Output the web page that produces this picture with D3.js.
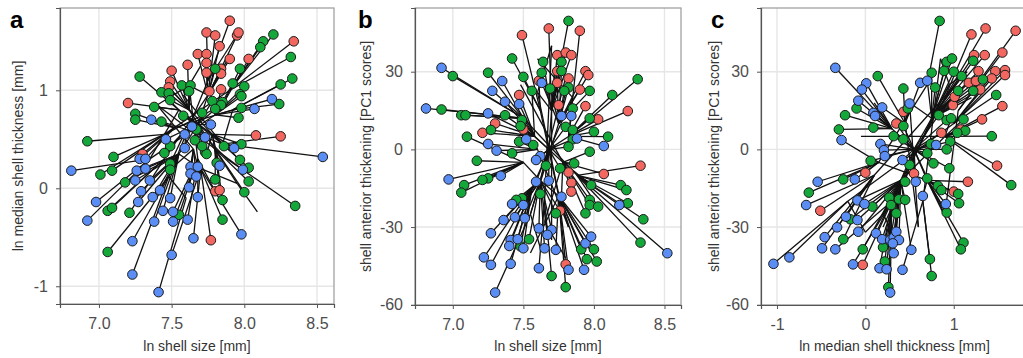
<!DOCTYPE html>
<html>
<head>
<meta charset="utf-8">
<script src="https://cdn.jsdelivr.net/npm/d3@7"></script>
<style>
  body { margin: 0; background: #fff; }
  text { font-family: "Liberation Sans", Arial, Helvetica, sans-serif; }
</style>
</head>
<body>
<svg id="chart" width="1023" height="358"></svg>
<script>
// group colours (red, green, blue clades)
var groupColours = ["#F2675F", "#14A83A", "#5B8EF5"];

// tick values
var sizeTicks = [7.0, 7.5, 8.0, 8.5];
var thickTicks = [-1, 0, 1];
var pcTicks = [-60, -30, 0, 30];

// panel a: [ln shell size, ln median shell thickness, group]
var tipsA = [
  [7.90,1.71,0],[7.74,1.59,0],[7.80,1.56,0],[7.95,1.56,0],[7.96,1.59,0],[8.34,1.50,0],[7.83,1.45,0],
  [7.68,1.37,0],[7.74,1.37,0],[7.74,1.28,0],[7.90,1.32,0],[8.03,1.32,0],[7.61,1.26,0],[7.84,1.22,0],
  [7.74,1.18,0],[7.50,1.20,0],[7.84,1.17,0],[7.49,1.09,0],[7.48,1.03,0],[7.76,0.99,0],[7.84,1.01,0],
  [7.20,0.87,0],[8.08,0.54,0],[8.25,0.53,0],[7.30,0.35,0],[7.80,-0.03,0],[7.83,-0.02,0],[7.77,-0.53,0],
  [8.20,1.57,1],[8.13,1.50,1],[8.11,1.44,1],[8.32,1.34,1],[7.97,1.22,1],[7.80,1.22,1],[8.33,1.12,1],
  [8.25,1.06,1],[8.00,1.04,1],[7.92,1.07,1],[7.97,0.96,1],[7.98,0.94,1],[8.24,0.86,1],[7.78,0.89,1],
  [7.85,0.88,1],[7.84,0.85,1],[7.98,0.82,1],[7.71,0.77,1],[7.96,0.72,1],[7.98,0.45,1],[7.86,0.43,1],
  [7.73,0.37,1],[7.28,1.14,1],[7.43,0.98,1],[7.48,0.97,1],[7.57,1.05,1],[7.63,1.05,1],[7.62,0.99,1],
  [7.38,0.83,1],[7.25,0.76,1],[7.25,0.70,1],[7.43,0.68,1],[7.58,0.74,1],[7.49,0.90,1],[6.92,0.48,1],
  [7.66,0.49,1],[7.10,0.32,1],[7.01,0.14,1],[7.09,0.18,1],[7.18,0.06,1],[7.06,-0.23,1],[7.09,-0.20,1],
  [7.21,-0.25,1],[7.55,-0.27,1],[7.49,0.25,1],[7.49,0.19,1],[7.74,0.35,1],[7.81,0.26,1],[7.80,0.09,1],
  [7.85,-0.12,1],[7.85,-0.32,1],[8.00,-0.04,1],[8.03,0.07,1],[8.03,0.21,1],[7.97,0.29,1],[8.35,-0.18,1],
  [7.06,-0.65,1],[7.49,0.43,1],[7.45,0.36,1],[7.71,0.43,1],[7.80,0.81,1],[7.67,0.60,1],
  [8.19,0.91,2],[8.07,0.81,2],[7.77,0.65,2],[7.73,0.52,2],[7.93,0.41,2],[8.54,0.32,2],[7.36,0.70,2],
  [7.64,0.63,2],[7.46,0.50,2],[7.59,0.41,2],[6.81,0.18,2],[7.28,0.30,2],[7.32,0.30,2],[7.26,0.18,2],
  [7.32,0.20,2],[7.35,0.08,2],[7.25,0.08,2],[7.29,-0.03,2],[7.42,-0.02,2],[6.98,-0.14,2],[7.27,-0.14,2],
  [7.37,-0.09,2],[6.92,-0.33,2],[7.49,-0.10,2],[7.44,-0.23,2],[7.51,-0.24,2],[7.38,-0.34,2],[7.51,-0.34,2],
  [7.61,-0.32,2],[7.62,0.01,2],[7.68,-0.09,2],[7.63,0.22,2],[7.68,0.22,2],[7.63,0.15,2],[7.67,0.12,2],
  [7.65,-0.51,2],[7.98,-0.47,2],[7.99,0.19,2],[7.23,-0.54,2],[7.50,-0.68,2],[7.23,-0.88,2],[7.41,-1.06,2],
  [7.59,0.55,2],[7.83,0.23,2]
];
// panel a internal nodes: [x, y, parent node]
var nodesA = [
  [7.68,0.65,-1],[7.75,0.95,0],[7.82,1.15,1],[7.62,1.05,1],[7.55,0.80,0],[7.45,0.55,4],[7.55,0.35,0],
  [7.70,0.20,6],[7.48,0.12,6],[7.85,0.45,0],[7.92,0.80,9],[7.95,0.05,7],[7.40,0.85,3],[7.88,1.30,2],
  [7.60,-0.10,8],[7.70,1.25,3],[7.35,0.30,5],[8.09,-0.24,11],[7.78,0.55,4],[7.60,0.60,9],
  [7.50,1.00,18],[7.90,1.00,5],[7.65,0.40,12],[7.80,0.75,16],
  [7.58,0.95,9],[7.88,0.30,4],[7.52,0.62,10],[7.75,1.10,8],[7.68,0.30,3],[7.85,0.85,5],
  [7.45,0.30,1],[7.62,0.80,11],[7.80,0.40,12]
];

// panel b: [ln shell size, PC1 score, group]
var tipsB = [
  [7.49,44.1,0],[7.68,46.7,0],[7.90,45.8,0],[7.74,36.4,0],[7.80,37.4,0],[7.84,36.4,0],[7.94,30.2,0],
  [7.96,28.7,0],[7.74,30.2,0],[7.82,27.4,0],[7.61,26.5,0],[7.74,25.7,0],[7.90,23.1,0],[7.47,21.0,0],
  [7.75,17.1,0],[7.94,16.7,0],[8.03,11.6,0],[8.24,14.8,0],[7.30,10.0,0],[7.21,6.4,0],[7.50,7.7,0],
  [8.33,-6.3,0],[8.07,-9.5,0],[7.82,-8.9,0],[7.84,-12.9,0],[7.84,-16.3,0],[7.76,-23.7,0],[7.80,-44.4,0],
  [7.82,49.6,1],[7.64,33.8,1],[7.77,33.8,1],[7.77,30.3,1],[7.63,29.6,1],[7.69,23.5,1],[7.56,22.6,1],
  [7.82,23.9,1],[7.79,22.6,1],[7.97,22.6,1],[8.13,21.0,1],[8.31,27.1,1],[7.50,28.0,1],[7.42,35.1,1],
  [7.25,29.6,1],[7.00,28.3,1],[6.92,15.4,1],[7.06,13.2,1],[7.09,13.2,1],[7.10,4.9,1],[7.27,7.5,1],
  [7.37,13.2,1],[7.49,11.3,1],[7.48,9.0,1],[7.47,3.0,1],[7.57,1.7,1],[7.85,15.8,1],[7.97,12.0,1],
  [8.00,6.8,1],[8.10,4.9,1],[7.80,8.7,1],[7.85,7.5,1],[7.85,3.9,1],[7.82,1.0,1],[7.97,-0.9,1],
  [7.42,-1.5,1],[7.17,-4.4,1],[7.66,-6.3,1],[7.76,-7.3,1],[7.86,-5.4,1],[7.98,-13.8,1],[8.19,-13.8,1],
  [8.23,-15.7,1],[8.24,-20.8,1],[7.97,-19.5,1],[7.97,-21.5,1],[8.03,-22.1,1],[7.94,-24.7,1],[7.62,-17.2,1],
  [7.73,-24.7,1],[8.35,-27.0,1],[8.33,-36.0,1],[7.08,-13.8,1],[7.06,-16.7,1],[7.25,-11.2,1],[7.21,-11.8,1],
  [7.49,-18.9,1],[7.45,-19.5,1],[7.54,-34.7,1],[7.48,-37.5,1],[7.91,-38.6,1],[8.00,-38.6,1],[7.95,-42.4,1],
  [8.02,-43.3,1],[7.70,-48.9,1],[7.80,-53.2,1],
  [6.92,31.5,2],[7.35,26.4,2],[7.63,25.7,2],[7.28,22.6,2],[7.37,18.4,2],[7.47,17.5,2],[6.81,15.8,2],
  [7.25,13.9,2],[7.84,12.9,2],[7.77,12.9,2],[7.88,4.2,2],[8.07,1.3,2],[7.25,2.1,2],[7.31,-0.5,2],
  [7.52,3.9,2],[7.62,-2.6,2],[7.59,-4.1,2],[7.34,-10.2,2],[6.97,-11.6,2],[7.59,-12.5,2],[7.68,-12.1,2],
  [7.77,-18.3,2],[8.18,-21.5,2],[7.42,-21.1,2],[7.50,-21.5,2],[7.36,-27.3,2],[7.44,-26.2,2],[7.51,-26.6,2],
  [7.61,-30.5,2],[7.70,-31.1,2],[7.67,-33.0,2],[7.27,-32.4,2],[7.41,-35.0,2],[7.46,-34.7,2],[7.40,-37.3,2],
  [7.50,-38.2,2],[7.94,-36.3,2],[7.98,-33.7,2],[7.73,-38.8,2],[7.65,-38.2,2],[7.22,-41.7,2],[7.27,-44.6,2],
  [7.41,-44.2,2],[7.61,-45.9,2],[7.82,-46.5,2],[7.93,-46.5,2],[7.30,-55.3,2],[8.52,-40.1,2]
];
var nodesB = [
  [7.68,0,-1],[7.70,15,0],[7.72,30,1],[7.60,22,1],[7.58,5,0],[7.50,12,4],[7.62,-12,0],[7.55,-25,6],
  [7.62,-38,7],[7.75,-18,6],[7.82,-30,9],[7.82,5,0],[7.85,20,11],[7.50,-5,6],[7.78,-5,4],[7.65,-28,14],
  [7.60,35,12],[7.80,-42,15],[7.70,40,3],[7.55,-40,9],[7.88,-10,5],[7.48,25,14],
  [7.62,15,9],[7.78,-25,3],[7.56,-15,12],[7.80,28,6],[7.70,-35,1],[7.60,0,10],[7.75,10,7],[7.65,-20,18]
];

// panel c: [ln median shell thickness, PC1 score, group]
var tipsC = [
  [1.20,44.4,0],[1.36,46.7,0],[1.70,45.8,0],[1.23,36.4,0],[1.35,36.4,0],[1.55,37.4,0],[1.28,30.2,0],
  [1.47,30.2,0],[1.58,30.6,0],[1.58,28.7,0],[1.17,25.7,0],[1.25,26.4,0],[1.30,23.1,0],[1.43,27.4,0],
  [1.55,16.7,0],[0.99,17.1,0],[1.32,11.6,0],[1.08,7.7,0],[0.86,6.4,0],[0.35,10.0,0],[0.43,14.5,0],
  [1.49,-6.3,0],[1.16,-12.5,0],[1.00,-16.3,0],[0.55,-9.3,0],[0.00,-9.0,0],[-0.51,-23.7,0],[-0.03,-44.6,0],
  [1.01,20.3,0],
  [0.84,49.6,1],[0.92,33.8,1],[0.98,35.1,1],[1.00,30.0,1],[0.89,30.3,1],[1.22,34.2,1],[1.09,28.3,1],
  [1.33,27.0,1],[1.22,22.6,1],[1.48,21.0,1],[1.05,22.6,1],[0.75,29.6,1],[0.79,23.9,1],[0.43,23.5,1],
  [0.14,28.3,1],[-0.10,15.8,1],[0.48,15.8,1],[0.83,13.2,1],[0.92,11.3,1],[0.97,12.0,1],[1.11,11.6,1],
  [1.13,7.2,1],[1.04,6.4,1],[1.43,5.1,1],[0.96,3.0,1],[0.92,0.0,1],[0.74,2.1,1],[0.43,3.9,1],
  [0.32,5.1,1],[0.43,9.0,1],[0.09,8.4,1],[-0.23,13.2,1],[-0.30,7.7,1],[0.06,-4.4,1],[0.50,-6.0,1],
  [0.70,-1.5,1],[0.77,-5.4,1],[0.95,-7.3,1],[0.70,-11.2,1],[0.45,-12.5,1],[0.82,-14.1,1],[0.86,-15.7,1],
  [1.05,-17.2,1],[1.06,-20.8,1],[0.92,-24.4,1],[1.65,-13.8,1],[0.38,-19.3,1],[0.45,-19.5,1],[0.27,-18.6,1],
  [0.29,-21.5,1],[0.35,-24.7,1],[0.08,-22.1,1],[-0.25,-11.6,1],[-0.64,-16.7,1],[-0.25,-34.7,1],[-0.17,-27.0,1],
  [-0.03,-38.6,1],[0.22,-43.3,1],[0.26,-53.2,1],[0.73,-42.4,1],[0.75,-48.9,1],[1.11,-36.0,1],[1.08,-38.6,1],
  [0.20,-37.8,1],
  [-0.34,31.5,2],[0.01,25.5,2],[-0.04,23.1,2],[-0.08,18.8,2],[0.09,14.1,2],[0.11,12.9,2],[0.19,16.2,2],
  [0.50,17.7,2],[0.62,25.7,2],[0.70,26.5,2],[-0.27,3.6,2],[0.17,2.1,2],[0.21,-0.3,2],[0.22,-2.6,2],
  [0.42,-4.1,2],[0.80,1.7,2],[0.57,-12.5,2],[0.65,-18.0,2],[0.91,-21.1,2],[-0.54,-12.5,2],[-0.67,-21.5,2],
  [-0.12,-11.6,2],[-0.09,-19.7,2],[-0.01,-21.1,2],[-0.22,-26.0,2],[-0.09,-27.3,2],[-0.32,-30.1,2],[-0.08,-31.8,2],
  [0.12,-32.4,2],[0.19,-34.7,2],[0.28,-35.0,2],[0.32,-34.0,2],[0.35,-31.8,2],[0.38,-35.0,2],[0.31,-36.3,2],
  [-0.46,-33.9,2],[-0.49,-38.2,2],[-0.34,-38.6,2],[-1.04,-44.2,2],[-0.86,-41.7,2],[-0.14,-44.4,2],[0.16,-45.9,2],
  [0.24,-46.3,2],[0.32,-40.1,2],[0.42,-46.5,2],[0.52,-38.8,2],[0.28,-55.3,2]
];
var nodesC = [
  [0.55,0,-1],[0.75,12,0],[0.95,25,1],[1.15,30,2],[0.85,35,2],[0.50,18,1],[0.30,8,0],[0.10,18,6],
  [0.40,-12,0],[0.20,-25,8],[0.00,-32,9],[0.35,-35,9],[0.70,-12,0],[0.90,-25,12],[1.05,15,13],
  [-0.20,-20,10],[0.90,5,8],[0.60,-30,5],[1.20,20,1],[0.15,-5,12],[-0.05,5,16],
  [0.30,-20,2],[0.90,20,9],[0.10,-10,3],[1.00,10,15],[0.65,-20,4],[0.45,10,17],[0.70,25,19],[0.20,-30,1]
];

var fmtSize = function(d) { return d.toFixed(1); };
var fmtInt = function(d) { return String(d); };

var panels = [
  { label: "a", tips: tipsA, nodes: nodesA, left: 60, right: 334, top: 8, bottom: 304,
    xDomain: [6.732, 8.617], yDomain: [-1.181, 1.840], xTicks: sizeTicks, yTicks: thickTicks,
    xFormat: fmtSize, yFormat: fmtInt, xTitle: "ln shell size [mm]",
    yTitle: "ln median shell thickness [mm]", labelX: 10, yTitleX: 22.5 },
  { label: "b", tips: tipsB, nodes: nodesB, left: 415, right: 681, top: 8, bottom: 305,
    xDomain: [6.732, 8.617], yDomain: [-60.1, 54.6], xTicks: sizeTicks, yTicks: pcTicks,
    xFormat: fmtSize, yFormat: fmtInt, xTitle: "ln shell size [mm]",
    yTitle: "shell anterior thickening [PC1 scores]", labelX: 358, yTitleX: 371 },
  { label: "c", tips: tipsC, nodes: nodesC, left: 761, right: 1028, top: 8, bottom: 305,
    xDomain: [-1.181, 1.840], yDomain: [-60.1, 54.6], xTicks: thickTicks, yTicks: pcTicks,
    xFormat: fmtInt, yFormat: fmtInt, xTitle: "ln median shell thickness [mm]",
    yTitle: "shell anterior thickening [PC1 scores]", labelX: 711, yTitleX: 719 }
];

var svg = d3.select("#chart");

panels.forEach(function(p) {
  var x = d3.scaleLinear().domain(p.xDomain).range([p.left, p.right]);
  var y = d3.scaleLinear().domain(p.yDomain).range([p.bottom, p.top]);
  var g = svg.append("g");

  // grid lines
  g.selectAll(".gx").data(p.xTicks).enter().append("line")
    .attr("x1", function(d) { return x(d); }).attr("x2", function(d) { return x(d); })
    .attr("y1", p.top).attr("y2", p.bottom)
    .attr("stroke", "#e6e6e6").attr("stroke-width", 1.4);
  g.selectAll(".gy").data(p.yTicks).enter().append("line")
    .attr("x1", p.left).attr("x2", p.right)
    .attr("y1", function(d) { return y(d); }).attr("y2", function(d) { return y(d); })
    .attr("stroke", "#e6e6e6").attr("stroke-width", 1.4);

  // branches: node to parent node; each tip joins the node closest to a point
  // part way between the tip and the root node, so branches run into the core
  var nodePx = p.nodes.map(function(n) { return [x(n[0]), y(n[1])]; });
  var root = nodePx[0];
  var segs = [];
  p.nodes.forEach(function(n, i) {
    if (n[2] >= 0) segs.push([nodePx[i], nodePx[n[2]]]);
  });
  p.tips.forEach(function(t) {
    var tp = [x(t[0]), y(t[1])];
    var aim = [root[0] + 0.4 * (tp[0] - root[0]), root[1] + 0.4 * (tp[1] - root[1])];
    var best = d3.minIndex(nodePx, function(q) {
      return (q[0] - aim[0]) * (q[0] - aim[0]) + (q[1] - aim[1]) * (q[1] - aim[1]);
    });
    segs.push([tp, nodePx[best]]);
  });
  g.selectAll(".branch").data(segs).enter().append("line")
    .attr("x1", function(d) { return d[0][0]; }).attr("y1", function(d) { return d[0][1]; })
    .attr("x2", function(d) { return d[1][0]; }).attr("y2", function(d) { return d[1][1]; })
    .attr("stroke", "#111").attr("stroke-width", 1.3);

  // tips
  g.selectAll(".tip").data(p.tips).enter().append("circle")
    .attr("cx", function(d) { return x(d[0]); })
    .attr("cy", function(d) { return y(d[1]); })
    .attr("r", 4.8)
    .attr("fill", function(d) { return groupColours[d[2]]; })
    .attr("stroke", "#1a1a1a").attr("stroke-width", 1);

  // frame
  g.append("rect")
    .attr("x", p.left).attr("y", p.top)
    .attr("width", p.right - p.left).attr("height", p.bottom - p.top)
    .attr("fill", "none").attr("stroke", "#9a9a9a").attr("stroke-width", 1.2);

  // axes
  var xAxis = g.append("g").attr("transform", "translate(0," + p.bottom + ")")
    .call(d3.axisBottom(x).tickValues(p.xTicks).tickFormat(p.xFormat).tickSize(4).tickPadding(10));
  var yAxis = g.append("g").attr("transform", "translate(" + p.left + ",0)")
    .call(d3.axisLeft(y).tickValues(p.yTicks).tickFormat(p.yFormat).tickSize(4).tickPadding(8));
  [xAxis, yAxis].forEach(function(a) {
    a.select(".domain").attr("stroke", "#555").attr("stroke-width", 1.2);
    a.selectAll(".tick line").attr("stroke", "#555");
    a.selectAll(".tick text").attr("fill", "#4d4d4d")
      .style("font-size", "16px").style("font-family", '"Liberation Sans", Arial, sans-serif');
  });

  // titles
  g.append("text")
    .attr("x", (p.left + p.right) / 2).attr("y", 351)
    .attr("text-anchor", "middle").attr("fill", "#333")
    .style("font-size", "14px")
    .text(p.xTitle);
  g.append("text")
    .attr("transform", "translate(" + p.yTitleX + "," + (p.top + p.bottom) / 2 + ") rotate(-90)")
    .attr("text-anchor", "middle").attr("fill", "#333")
    .style("font-size", "14px")
    .text(p.yTitle);

  // panel letter
  g.append("text")
    .attr("x", p.labelX).attr("y", 28)
    .attr("fill", "#000")
    .style("font-size", "24px").style("font-weight", "bold")
    .text(p.label);
});
</script>
</body>
</html>
